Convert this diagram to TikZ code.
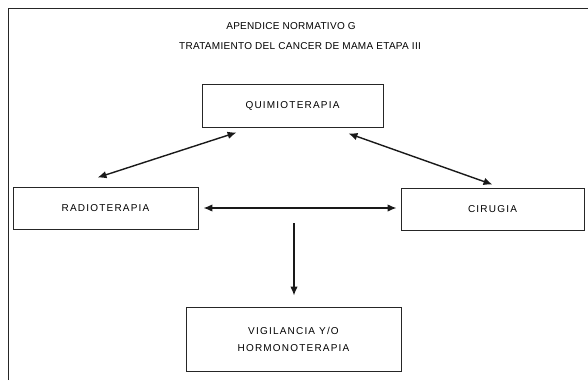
\documentclass[tikz,border=0pt]{standalone}
\usepackage{fontspec}
\setmainfont{Liberation Sans}
\newfontfamily\boxfont[LetterSpace=12]{Liberation Sans}
\newfontfamily\titlefont[LetterSpace=3]{Liberation Sans}
\usetikzlibrary{arrows.meta}
\begin{document}
\begin{tikzpicture}[x=1pt,y=-1pt,
  box/.style={draw=black!85, line width=0.9pt, minimum width=#1, inner sep=0pt, align=center, font=\boxfont\fontsize{10}{17}\selectfont},
  lbl/.style={font=\titlefont\fontsize{10}{11}\selectfont, inner sep=0pt},
  arr/.style={line width=1.4pt, draw=black!90, -{Latex[length=9pt,width=7.5pt]}},
  darr/.style={line width=1.4pt, draw=black!90, {Latex[length=9pt,width=7.5pt]}-{Latex[length=9pt,width=7.5pt]}}
]
\useasboundingbox (0,0) rectangle (588,380);
\draw[line width=1pt, black!85] (8,380) -- (8,8) -- (588,8);
\node[lbl] (t1) at (291,26) {APENDICE NORMATIVO G};
\node[lbl] (t2) at (300,46) {TRATAMIENTO DEL CANCER DE MAMA ETAPA III};
\node[box=181pt, minimum height=43pt] (quimio) at (292.5,105.5) {QUIMIOTERAPIA};
\node[box=185pt, minimum height=42pt] (radio) at (105.5,208) {RADIOTERAPIA};
\node[box=183pt, minimum height=42pt] (ciru) at (492.5,209) {CIRUGIA};
\node[box=215pt, minimum height=64pt] (vigil) at (293.5,339) {VIGILANCIA Y/O\\HORMONOTERAPIA};
\coordinate (q1) at ([xshift=35pt,yshift=-5pt]quimio.south west);
\coordinate (r1) at ([xshift=-8pt,yshift=9pt]radio.north);
\coordinate (q2) at ([xshift=-35pt,yshift=-6pt]quimio.south east);
\coordinate (c1) at ([yshift=3pt]ciru.north);
\coordinate (r2) at ([xshift=5pt]radio.east);
\path (ciru.west |- radio.east) ++(-4,0) coordinate (c2);
\coordinate (vtop) at (294,223);
\coordinate (v1) at ([xshift=0.5pt,yshift=11pt]vigil.north);
\draw[darr] (q1) -- (r1);
\draw[darr] (q2) -- (c1);
\draw[darr] (r2) -- (c2);
\draw[arr] (vtop) -- (v1);
\end{tikzpicture}
\end{document}
